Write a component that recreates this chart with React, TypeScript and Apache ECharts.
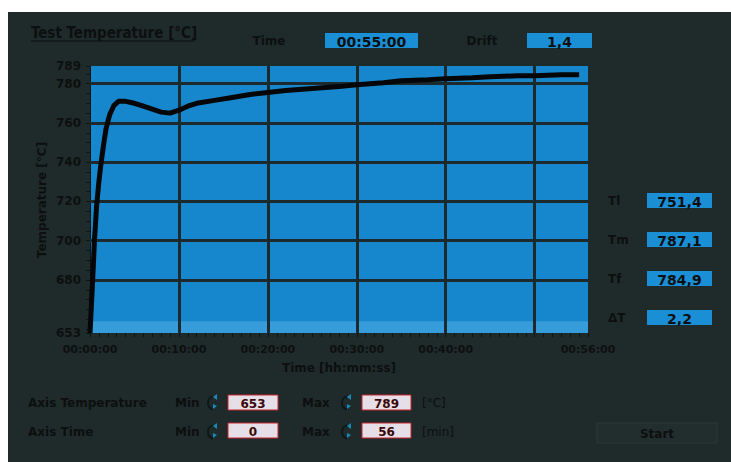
import React, { useEffect, useRef } from "react";
import * as echarts from "echarts";

// ---- data ----
const timeMin: number[] = [0, 0.3, 0.5, 0.75, 1.0, 1.2, 1.5, 1.8, 2.2, 2.7, 3.2, 4.0, 5, 6, 7, 8, 9, 10, 11, 12, 14, 16, 18, 20, 22, 25, 28, 30, 33, 35, 38, 40, 43, 45, 48, 50, 53, 55];
const tempC: number[] = [653, 680, 700, 718, 730, 738, 748, 757, 764, 769, 771, 771, 770, 768.5, 767, 765.5, 765, 766.5, 768.5, 770, 771.5, 773, 774.5, 775.5, 776.5, 777.5, 778.5, 779.5, 780.5, 781.5, 782, 782.5, 783, 783.5, 784, 784, 784.5, 784.5];
const yLabelValues: number[] = [653, 680, 700, 720, 740, 760, 780, 789];
const yTickValues: number[] = [653, 655, 660, 665, 670, 675, 680, 685, 690, 695, 700, 705, 710, 715, 720, 725, 730, 735, 740, 745, 750, 755, 760, 765, 770, 775, 780, 785, 789];
const xLabelValues: number[] = [0, 10, 20, 30, 40, 56];
const gridTemps: number[] = [680, 700, 720, 740, 760, 780];
const gridTimes: number[] = [10, 20, 30, 40, 50];
const sideLabels: string[] = ["Tl", "Tm", "Tf", "ΔT"];
const sideValues: string[] = ["751,4", "787,1", "784,9", "2,2"];
const elapsed = "00:55:00";
const drift = "1,4";
const axisTempMin = "653";
const axisTempMax = "789";
const axisTimeMin = "0";
const axisTimeMax = "56";

const TEXT = "#0d0f0f";
const BG = "#1f2b2a";
const BLUE = "#1787cd";
const GRID = "#1c2a2d";
const FONT = "'DejaVu Sans', Verdana, sans-serif";

function fmtTime(v: number): string {
  const m = Math.round(v);
  const mm = m < 10 ? "0" + m : "" + m;
  return "00:" + mm + ":00";
}

function txt(x: number, y: number, text: string, opts: any = {}) {
  return {
    type: "text",
    x,
    y,
    silent: true,
    style: {
      text,
      fill: opts.fill || TEXT,
      font: `${opts.weight || "bold"} ${opts.size || 12}px ${opts.family || FONT}`,
      align: opts.align || "left",
      verticalAlign: "middle",
    },
    rotation: opts.rotation || 0,
  };
}

function blueBox(x: number, y: number, w: number, h: number, value: string) {
  return [
    { type: "rect", silent: true, shape: { x, y, width: w, height: h }, style: { fill: "#1a8fd6" } },
    txt(x + w / 2, y + h / 2 + 1, value, { align: "center", size: 14 }),
  ];
}

function pinkBox(x: number, y: number, w: number, h: number, value: string) {
  return [
    { type: "rect", silent: true, shape: { x, y, width: w, height: h }, style: { fill: "#e6dfe8", stroke: "#c3262e", lineWidth: 1 } },
    txt(x + w / 2, y + h / 2 + 1, value, { align: "center", size: 12, fill: "#3a0808" }),
  ];
}

function spinner(x: number, y: number) {
  return [
    { type: "arc", silent: true, shape: { cx: x, cy: y, r: 7, startAngle: Math.PI * 0.6, endAngle: Math.PI * 1.4 }, style: { stroke: "#0e1818", lineWidth: 2, fill: "none" } },
    { type: "polygon", silent: true, shape: { points: [[x - 2, y - 6], [x + 2, y - 9], [x + 2, y - 3]] }, style: { fill: "#1a88b8" } },
    { type: "polygon", silent: true, shape: { points: [[x - 2, y + 1], [x + 2, y + 3], [x - 2, y + 6]] }, style: { fill: "#1a88b8" } },
  ];
}

export default function App() {
  const ref = useRef<HTMLDivElement>(null);

  useEffect(() => {
    if (!ref.current) return;
    const chart = echarts.init(ref.current, null, { renderer: "svg" });

    const data = timeMin.map((t, i) => [t, tempC[i]]);
    const markLineData: any[] = [
      ...gridTemps.map((v) => ({ yAxis: v })),
      ...gridTimes.map((v) => ({ xAxis: v })),
    ];

    const graphics: any[] = [
      txt(23, 21, "Test Temperature [°C]", { size: 15, family: "'DejaVu Sans Condensed', 'DejaVu Sans', sans-serif" }),
      { type: "line", silent: true, shape: { x1: 23, y1: 29, x2: 187, y2: 29 }, style: { stroke: TEXT, lineWidth: 1.2 } },
      txt(261, 29, "Time", { align: "center", size: 12 }),
      ...blueBox(317, 21, 93, 15, elapsed),
      txt(474, 29, "Drift", { align: "center", size: 12 }),
      ...blueBox(519, 21, 65, 15, drift),
      // axis names
      txt(331, 356, "Time [hh:mm:ss]", { align: "center", size: 12 }),
      txt(34, 188, "Temperature [°C]", { align: "center", size: 12, rotation: Math.PI / 2 }),
      // bottom controls
      txt(20, 391, "Axis Temperature", { size: 12 }),
      txt(167, 391, "Min", { size: 12 }),
      ...spinner(207, 391),
      ...pinkBox(220, 383, 50, 15, axisTempMin),
      txt(294, 391, "Max", { size: 12 }),
      ...spinner(341, 391),
      ...pinkBox(354, 383, 49, 15, axisTempMax),
      txt(414, 391, "[°C]", { size: 12, weight: "normal" }),
      txt(20, 420, "Axis Time", { size: 12 }),
      txt(167, 420, "Min", { size: 12 }),
      ...spinner(207, 420),
      ...pinkBox(220, 411, 50, 15, axisTimeMin),
      txt(294, 420, "Max", { size: 12 }),
      ...spinner(341, 420),
      ...pinkBox(354, 411, 49, 15, axisTimeMax),
      txt(414, 420, "[min]", { size: 12, weight: "normal" }),
      { type: "rect", silent: true, shape: { x: 589, y: 411, width: 120, height: 20 }, style: { fill: "#212e2d", stroke: "#2b3837", lineWidth: 1 } },
      txt(649, 422, "Start", { align: "center", size: 12 }),
    ];

    const sideY = [189, 228, 267, 306];
    sideLabels.forEach((lab, i) => {
      graphics.push(txt(600, sideY[i], lab, { size: 12 }));
      graphics.push(...blueBox(639, sideY[i] - 8, 65, 15, sideValues[i]));
    });

    chart.setOption({
      animation: false,
      backgroundColor: BG,
      grid: {
        left: 82,
        top: 54,
        width: 498,
        height: 267,
        show: true,
        backgroundColor: BLUE,
        borderWidth: 0,
      },
      xAxis: {
        type: "value",
        min: 0,
        max: 56,
        interval: 1,
        axisLine: { show: true, lineStyle: { color: GRID, width: 1 } },
        axisTick: { show: true, length: 4, lineStyle: { color: "#0c1414" } },
        axisLabel: {
          customValues: xLabelValues,
          formatter: (v: number) => fmtTime(v),
          color: TEXT,
          fontFamily: FONT,
          fontWeight: "bold",
          fontSize: 11,
          margin: 11,
        },
        splitLine: { show: false },
      },
      yAxis: {
        type: "value",
        min: 653,
        max: 789,
        axisLine: { show: true, lineStyle: { color: "#0c1414", width: 1 } },
        axisTick: { show: true, length: 4, customValues: yTickValues, lineStyle: { color: "#0c1414" } },
        axisLabel: {
          customValues: yLabelValues,
          color: TEXT,
          fontFamily: FONT,
          fontWeight: "bold",
          fontSize: 12,
          margin: 9,
        },
        splitLine: { show: false },
      },
      graphic: graphics,
      series: [
        {
          type: "line",
          data,
          showSymbol: false,
          symbol: "none",
          lineStyle: { color: "#050607", width: 5 },
          z: 3,
          markLine: {
            silent: true,
            symbol: ["none", "none"],
            label: { show: false },
            lineStyle: { color: GRID, width: 3, type: "solid" },
            emphasis: { disabled: true },
            data: markLineData,
            z: 2,
          },
          markArea: {
            silent: true,
            itemStyle: { color: "rgba(95,185,235,0.45)" },
            data: [[{ yAxis: 653 }, { yAxis: 659 }]],
          },
        },
      ],
    });

    return () => chart.dispose();
  }, []);

  return (
    <div
      ref={ref}
      style={{ position: "absolute", left: 8, top: 12, width: 723, height: 450 }}
    />
  );
}
